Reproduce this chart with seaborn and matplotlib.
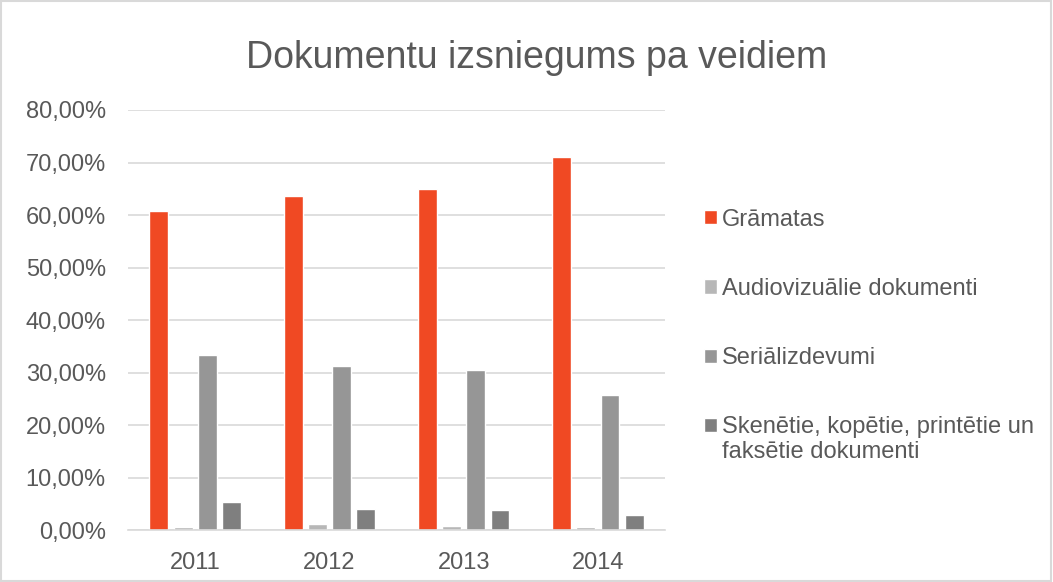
import seaborn as sns
import matplotlib.pyplot as plt
import pandas as pd
from matplotlib.patches import Rectangle

# Data (percent)
years = ['2011', '2012', '2013', '2014']
gramatas = [60.8, 63.6, 65.0, 71.0]
audio = [0.5, 1.1, 0.8, 0.5]
serial = [33.3, 31.2, 30.4, 25.7]
skenetie = [5.3, 4.1, 3.8, 2.9]
series_names = ['Grāmatas', 'Audiovizuālie dokumenti', 'Seriālizdevumi',
                'Skenētie, kopētie, printētie un']
last_line2 = 'faksētie dokumenti'
colors = ['#F04923', '#B7B7B7', '#969696', '#7F7F7F']

rows = []
for name, vals in zip(series_names, [gramatas, audio, serial, skenetie]):
    for y, v in zip(years, vals):
        rows.append({'Gads': y, 'Veids': name, 'Vertiba': v})
df = pd.DataFrame(rows)

sns.set_theme(style="white")
plt.rcParams['font.family'] = ['Liberation Sans', 'DejaVu Sans']
txt = '#595959'
fs = 17

fig = plt.figure(figsize=(10.53, 5.82), dpi=100)
ax = fig.add_axes([0.1216, 0.0893, 0.51, 0.7217])

sns.barplot(data=df, x='Gads', y='Vertiba', hue='Veids', palette=colors,
            width=0.72, gap=0.22, saturation=1, ax=ax, legend=True)

ax.set_ylim(0, 80)
ax.set_yticks(range(0, 81, 10))
ax.set_yticklabels([f"{v:.2f}".replace('.', ',') + '%' for v in range(0, 81, 10)],
                   fontsize=fs, color=txt)
ax.tick_params(axis='x', labelsize=fs, labelcolor=txt, length=0, pad=16)
ax.tick_params(axis='y', length=0, pad=16)
ax.yaxis.grid(True, color='#D9D9D9', lw=1.2)
ax.set_axisbelow(True)
for s in ['top', 'right', 'left']:
    ax.spines[s].set_visible(False)
ax.spines['bottom'].set_color('#D9D9D9')
ax.spines['bottom'].set_linewidth(1.2)
ax.set(xlabel=None, ylabel=None)

handles, labels = ax.get_legend_handles_labels()
ax.get_legend().remove()
leg = fig.legend(handles, labels, loc='upper left', bbox_to_anchor=(0.648, 0.678),
                 frameon=False, fontsize=fs, labelcolor=txt, handlelength=0.55,
                 handleheight=0.55, handletextpad=0.22, labelspacing=2.0)

# second line of the last legend label, placed under its first line
fig.canvas.draw()
bb = leg.get_texts()[-1].get_window_extent()
fig.text(bb.x0 / fig.bbox.width, (bb.y0 - 3) / fig.bbox.height, last_line2,
         ha='left', va='top', fontsize=fs, color=txt)

fig.text(0.51, 0.9, 'Dokumentu izsniegums pa veidiem', ha='center', va='center',
         fontsize=27, color=txt)

fig.patches.append(Rectangle((0.001, 0.001), 0.997, 0.997, transform=fig.transFigure,
                             fill=False, edgecolor='#D9D9D9', lw=1.5))

plt.savefig('out.png', dpi=100)
